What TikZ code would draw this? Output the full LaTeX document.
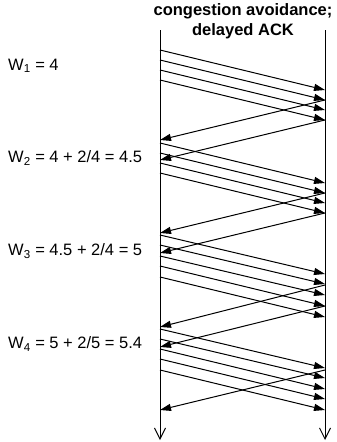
\documentclass[tikz,border=0pt]{standalone}
\usepackage{fontspec}
\setmainfont{Liberation Sans}
\usetikzlibrary{arrows.meta}
\begin{document}
\begin{tikzpicture}[x=1pt,y=-1pt,
  lbl/.style={anchor=west,inner sep=0pt,font=\fontsize{16.5}{20}\selectfont},
  hdr/.style={align=center,inner sep=0pt,font=\fontsize{16.5}{20}\selectfont\bfseries},
  timeline/.style={line width=1pt,-{Straight Barb[length=11pt,width=11pt,line width=1pt]}},
  msg/.style={line width=1pt,-{Triangle[length=11pt,width=7pt]}}]
\useasboundingbox (0,0) rectangle (337,442);
\node[hdr] (head) at (243,21) {congestion avoidance;\\delayed ACK};
\coordinate (Ltop) at (160,30);
\coordinate (Lbot) at (160,440);
\coordinate (Rtop) at (325,30);
\coordinate (Rbot) at (325,440);
\draw[timeline] (Ltop) -- (Lbot);
\draw[timeline] (Rtop) -- (Rbot);
% data segments: left -> right
\foreach \a/\b in {50/90,60/100,70/110,80/120,
                   143/183,153/193,163/203,173/213,
                   235/274,245/284,256/295,266/306,277/317,
                   329/368,339/378,349/389,359/399,370/410}
  \draw[msg] (160,\a) -- (325,\b);
% ACKs: right -> left
\foreach \a/\b in {100/140,120/160,193/233,213/253,285/327,306/347,370/410}
  \draw[msg] (325,\a) -- (160,\b);
\node[lbl] (w1) at (8,66) {W\textsubscript{1} = 4};
\node[lbl] (w2) at (8,158) {W\textsubscript{2} = 4 + 2/4 = 4.5};
\node[lbl] (w3) at (8,251) {W\textsubscript{3} = 4.5 + 2/4 = 5};
\node[lbl] (w4) at (8,344) {W\textsubscript{4} = 5 + 2/5 = 5.4};
\end{tikzpicture}
\end{document}
